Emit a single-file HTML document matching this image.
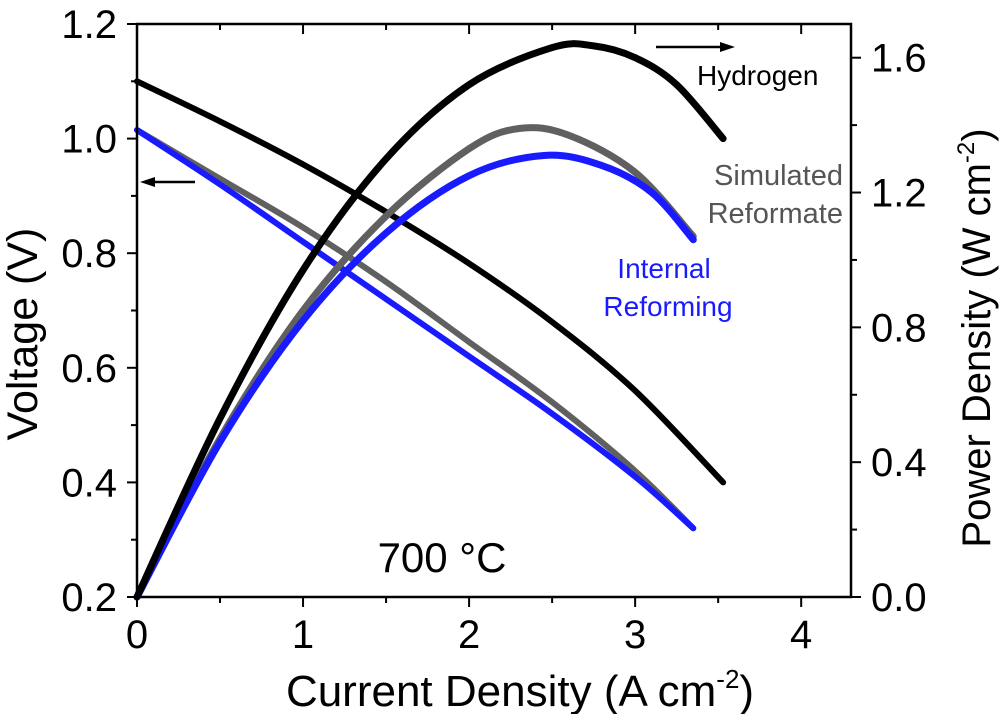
<!DOCTYPE html>
<html><head><meta charset="utf-8"><style>
body{margin:0;background:#fff}
svg text{font-family:"Liberation Sans",Arial,sans-serif}
</style></head><body>
<svg id="c" width="1000" height="714" viewBox="0 0 1000 714">
<g id="marks"></g>
<g id="axes"></g>
<text x="442" y="572" font-size="42" text-anchor="middle">700 °C</text>
<text x="697" y="85" font-size="28">Hydrogen</text>
<text x="843" y="185" font-size="29" fill="#555" text-anchor="end">Simulated</text>
<text x="843" y="223" font-size="29" fill="#555" text-anchor="end">Reformate</text>
<text x="664" y="278" font-size="28" fill="#1a1aff" text-anchor="middle">Internal</text>
<text x="668" y="316" font-size="28" fill="#1a1aff" text-anchor="middle">Reforming</text>
<g><line x1="656" y1="47" x2="722" y2="47" stroke="#000" stroke-width="2.5"/><polygon points="735,47 720,42 720,52" fill="#000"/></g>
<g><line x1="152" y1="182" x2="195" y2="182" stroke="#000" stroke-width="2.5"/><polygon points="140,182 155,177 155,187" fill="#000"/></g>
<text x="520" y="706" font-size="44" text-anchor="middle">Current Density (A cm<tspan font-size="26" dy="-18">-2</tspan><tspan dy="18">)</tspan></text>
<text transform="translate(37,334) rotate(-90)" font-size="43" text-anchor="middle">Voltage (V)</text>
<text transform="translate(990,338) rotate(-90)" font-size="40" text-anchor="middle">Power Density (W cm<tspan font-size="24" dy="-16">-2</tspan><tspan dy="16">)</tspan></text>
</svg>
<script>
const xTicks=[0,1,2,3,4];
const yLeftTicks=["0.2","0.4","0.6","0.8","1.0","1.2"];
const yRightTicks=["0.0","0.4","0.8","1.2","1.6"];
const h2VI=[0,0.5,1,1.5,2,2.5,3,3.53];
const h2V=[1.1,1.03,0.955,0.872,0.782,0.68,0.56,0.40];
const h2PI=[0,0.5,1,1.5,2,2.5,2.75,3,3.25,3.53];
const h2P=[0,0.53,0.97,1.3,1.52,1.63,1.635,1.6,1.52,1.36];
const simVI=[0,0.5,1,1.5,2,2.5,3,3.35];
const simV=[1.015,0.93,0.845,0.75,0.645,0.54,0.42,0.32];
const simPI=[0,0.5,1,1.5,2,2.3,2.6,3,3.35];
const simP=[0,0.47,0.85,1.13,1.33,1.39,1.37,1.26,1.07];
const irVI=[0,0.5,1,1.5,2,2.5,3,3.35];
const irV=[1.015,0.92,0.82,0.72,0.62,0.52,0.41,0.32];
const irPI=[0,0.5,1,1.5,2,2.45,2.8,3.1,3.35];
const irP=[0,0.46,0.82,1.08,1.25,1.31,1.28,1.2,1.06];

const L=137,R=851,T=24,B=597;
const X=v=>L+(v/4.3)*(R-L);
const YL=v=>B-(v-0.2)/1.0*(B-T);
const YR=v=>B-v/1.7*(B-T);
const NS="http://www.w3.org/2000/svg";
function mk(tag,attrs,parent){const e=document.createElementNS(NS,tag);for(const k in attrs)e.setAttribute(k,attrs[k]);parent.appendChild(e);return e;}
const marks=document.getElementById('marks'),axes=document.getElementById('axes');
function smooth(xs,ys,fy){
  const p=xs.map((x,i)=>[X(x),fy(ys[i])]);
  let d="M"+p[0][0]+","+p[0][1];
  for(let i=0;i<p.length-1;i++){
    const p0=p[i-1]||p[i],p1=p[i],p2=p[i+1],p3=p[i+2]||p2;
    const c1=[p1[0]+(p2[0]-p0[0])/6,p1[1]+(p2[1]-p0[1])/6];
    const c2=[p2[0]-(p3[0]-p1[0])/6,p2[1]-(p3[1]-p1[1])/6];
    d+=" C"+c1+" "+c2+" "+p2;
  }
  return d;
}
function series(xs,ys,fy,color,w,name){
  const e=mk('path',{d:smooth(xs,ys,fy),fill:'none',stroke:color,'stroke-width':w,'stroke-linecap':'round'},marks);
  
  
}
series(simVI,simV,YL,'#606060',6,'simulated-reformate-voltage');
series(irVI,irV,YL,'#1a1aff',6,'internal-reforming-voltage');
series(h2VI,h2V,YL,'#000',6,'hydrogen-voltage');
series(simPI,simP,YR,'#606060',7,'simulated-reformate-power');
series(irPI,irP,YR,'#1a1aff',7,'internal-reforming-power');
series(h2PI,h2P,YR,'#000',7,'hydrogen-power');

const frame=mk('rect',{x:L,y:T,width:R-L,height:B-T,fill:'none',stroke:'#000','stroke-width':2.5},axes);


for(let v=0;v<=4.01;v+=0.5){
  const x=X(v),maj=Math.abs(v-Math.round(v))<1e-6;
  mk('line',{x1:x,y1:B,x2:x,y2:B+(maj?10:6),stroke:'#000','stroke-width':2},axes);
  mk('line',{x1:x,y1:T,x2:x,y2:T+(maj?10:6),stroke:'#000','stroke-width':2},axes);
}
xTicks.forEach(v=>{
  const t=mk('text',{x:X(v),y:B+51,'font-size':40,'text-anchor':'middle'},axes);t.textContent=v;
  
  
});
yLeftTicks.forEach(s=>{
  const v=parseFloat(s),y=YL(v);
  mk('line',{x1:L-10,y1:y,x2:L,y2:y,stroke:'#000','stroke-width':2},axes);
  if(v<1.15)mk('line',{x1:L,y1:YL(v+0.1),x2:L-6,y2:YL(v+0.1),stroke:'#000','stroke-width':2},axes);
  const t=mk('text',{x:L-20,y:y+14,'font-size':40,'text-anchor':'end'},axes);t.textContent=s;
  
  
});
yRightTicks.forEach(s=>{
  const v=parseFloat(s),y=YR(v);
  mk('line',{x1:R,y1:y,x2:R+10,y2:y,stroke:'#000','stroke-width':2},axes);
  const y2=YR(v+0.2);if(y2>T)mk('line',{x1:R,y1:y2,x2:R+6,y2:y2,stroke:'#000','stroke-width':2},axes);
  const t=mk('text',{x:R+20,y:y+14,'font-size':40},axes);t.textContent=s;
  
  
});
</script>
</body></html>
